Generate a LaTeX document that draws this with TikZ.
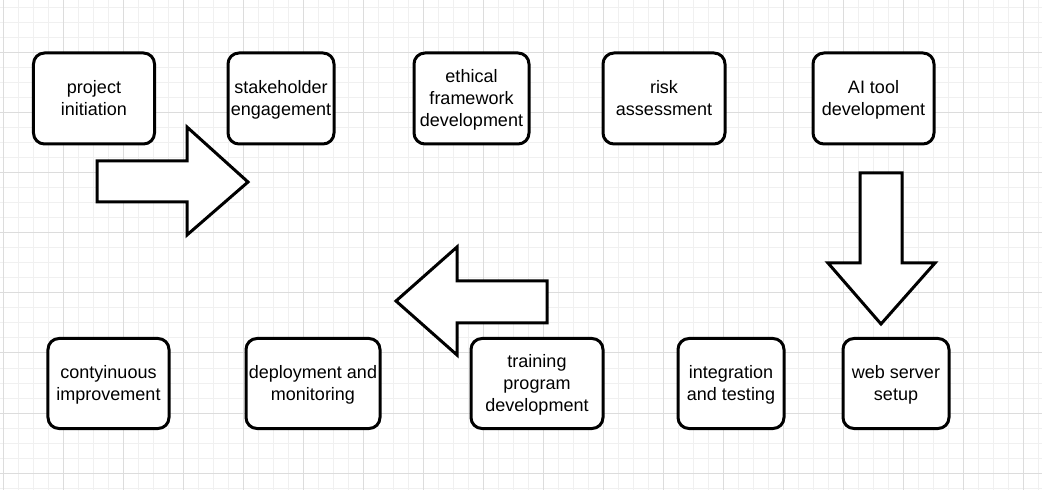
\documentclass[tikz,border=0pt]{standalone}
\usepackage{fontspec}
\setmainfont{Liberation Sans}
\definecolor{gridminor}{RGB}{240,240,240}
\definecolor{gridmajor}{RGB}{220,220,220}
\newcommand{\tstrut}{\rule{0pt}{19.4bp}}
\tikzset{
  stepbox/.style={draw=black, line width=3bp, rounded corners=11bp, fill=white,
    align=center, inner sep=0pt, font=\fontsize{18bp}{22bp}\selectfont},
  blockarrow/.style={draw=black, line width=3bp, fill=white, line join=miter},
}
\begin{document}
\begin{tikzpicture}[x=1bp,y=-1bp]
\useasboundingbox (0,0) rectangle (1042,490);
\fill[white] (0,0) rectangle (1042,490);
% grid
\foreach \x in {3,18,...,1041} \draw[gridminor, line width=1bp] (\x,0) -- (\x,490);
\foreach \y in {8,23,...,489} \draw[gridminor, line width=1bp] (0,\y) -- (1042,\y);
\foreach \x in {3,63,...,1041} \draw[gridmajor, line width=1bp] (\x,0) -- (\x,490);
\foreach \y in {53,113,...,489} \draw[gridmajor, line width=1bp] (0,\y) -- (1042,\y);
% top row
\node[stepbox, minimum width=121bp, minimum height=91bp] (init) at (94,98.5) {\tstrut project\\\strut initiation};
\node[stepbox, minimum width=106bp, minimum height=91bp] (stake) at (281,98.5) {\tstrut stakeholder\\\strut engagement};
\node[stepbox, minimum width=115bp, minimum height=91bp] (ethic) at (471.5,98.5) {\tstrut ethical\\\strut framework\\\strut development};
\node[stepbox, minimum width=122bp, minimum height=91bp] (risk) at (664,98.5) {\tstrut risk\\\strut assessment};
\node[stepbox, minimum width=121bp, minimum height=91bp] (aitool) at (873.5,98.5) {\tstrut AI tool\\\strut development};
% bottom row
\node[stepbox, minimum width=121bp, minimum height=90bp] (improve) at (108.5,383.5) {\tstrut contyinuous\\\strut improvement};
\node[stepbox, minimum width=134bp, minimum height=90bp] (deploy) at (313,383.5) {\tstrut deployment and\\\strut monitoring};
\node[stepbox, minimum width=132bp, minimum height=90bp] (train) at (537,383.5) {\tstrut training\\\strut program\\\strut development};
\node[stepbox, minimum width=106bp, minimum height=90bp] (integ) at (731,383.5) {\tstrut integration\\\strut and testing};
\node[stepbox, minimum width=106bp, minimum height=90bp] (web) at (896,383.5) {\tstrut web server\\\strut setup};
% block arrows
\draw[blockarrow] (97,161) -- (187,161) -- (187,127) -- (248,182) -- (187,235) -- (187,202) -- (97,202) -- cycle;
\draw[blockarrow] (547,281) -- (457,281) -- (457,247) -- (396,301) -- (457,355) -- (457,323) -- (547,323) -- cycle;
\draw[blockarrow] (860,173) -- (902,173) -- (902,263) -- (935,263) -- (881,324) -- (828,263) -- (860,263) -- cycle;
\end{tikzpicture}
\end{document}
